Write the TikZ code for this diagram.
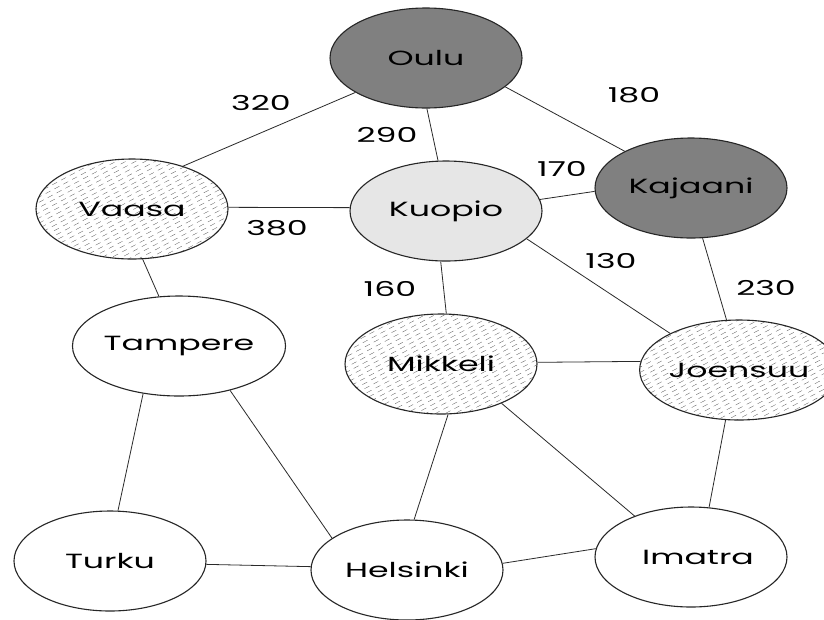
\documentclass[tikz,border=0pt]{standalone}
\usepackage{fontspec}
\setmainfont{Poppins}[FakeStretch=1.62]
\usetikzlibrary{shapes.geometric,patterns.meta}
\definecolor{darkfill}{HTML}{808080}
\definecolor{lightfill}{HTML}{E6E6E6}
\definecolor{edgecol}{HTML}{2A2A2A}
\definecolor{hatchcol}{HTML}{555555}
\tikzdeclarepattern{
  name=dashhatch,
  type=colored,
  bounding box={(-0.5pt,-0.5pt) and (10.5pt,0.5pt)},
  tile size={(10pt,4.6pt)},
  tile transformation={rotate=28},
  code={\draw[line width=0.3pt, hatchcol] (0,0) -- (5.5pt,0);}
}
\tikzset{
  city/.style={ellipse, draw=black!85, line width=1.1pt, minimum width=192pt,
    minimum height=100pt, inner sep=0pt, font=\fontsize{20.5pt}{24pt}\selectfont},
  capital/.style={city, fill=darkfill},
  hub/.style={city, fill=lightfill},
  hatched/.style={city, pattern=dashhatch},
  plain/.style={city, fill=white},
  road/.style={draw=edgecol, line width=0.8pt},
  dist/.style={font=\fontsize{20.5pt}{24pt}\selectfont, inner sep=0pt}
}
\begin{document}
\begin{tikzpicture}[x=1pt,y=-1pt]
\useasboundingbox (0,0) rectangle (824,619);
\fill[white] (0,0) rectangle (824,619);
\node[capital] (oulu) at (426,58) {Oulu};
\node[hatched] (vaasa) at (132,209) {Vaasa};
\node[hub] (kuopio) at (446,211) {Kuopio};
\node[capital] (kajaani) at (691,188) {Kajaani};
\node[plain] (tampere) at (179,346) {Tampere};
\node[hatched] (mikkeli) at (441,364) {Mikkeli};
\node[hatched] (joensuu) at (739,370) {Joensuu};
\node[plain] (turku) at (110,561) {Turku};
\node[plain] (helsinki) at (407,570) {Helsinki};
\node[plain] (imatra) at (691,557) {\hspace*{14pt}Imatra};

\draw[road] (oulu.206) -- (vaasa.40);
\draw[road] (oulu.271) -- (kuopio.99);
\draw[road] (oulu.340) -- (kajaani.151);
\draw[road] (vaasa.1) -- (kuopio.178);
\draw[road] (kuopio.7) -- (kajaani.182);
\draw[road] (kuopio.264) -- (mikkeli.84);
\draw[road] (kuopio.341) -- (joensuu.152);
\draw[road] (kajaani.283) -- (joensuu.104);
\draw[road] (vaasa.282) -- (tampere.112);
\draw[road] (mikkeli.1) -- (joensuu.175);
\draw[road] (tampere.233) -- (turku.81);
\draw[road] (tampere.319) -- (helsinki.157);
\draw[road] (mikkeli.278) -- (helsinki.82);
\draw[road] (mikkeli.327) -- (imatra.144);
\draw[road] (joensuu.255) -- (imatra.70);
\draw[road] (turku.358) -- (helsinki.178);
\draw[road] (helsinki.4) -- (imatra.175);

\node[dist] (d320) at (261,103) {320};
\node[dist] (d290) at (387,135) {290};
\node[dist] (d180) at (634,95) {180};
\node[dist] (d170) at (562,169) {170};
\node[dist] (d380) at (277,228) {380};
\node[dist] (d130) at (611,261) {130};
\node[dist] (d160) at (390,289) {160};
\node[dist] (d230) at (766,288) {230};
\end{tikzpicture}
\end{document}
